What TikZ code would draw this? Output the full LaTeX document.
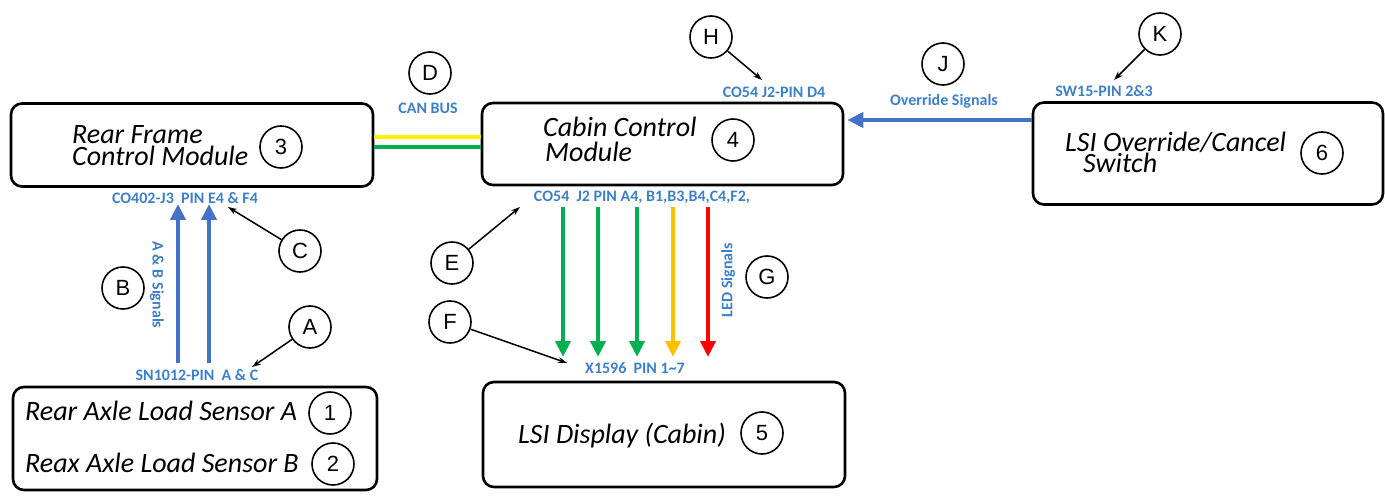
\documentclass[tikz,border=0pt]{standalone}
\usepackage{fontspec}
\setmainfont{Carlito}
\newfontfamily\circfont{Liberation Sans}
\usetikzlibrary{arrows.meta}
\definecolor{lblue}{RGB}{62,128,200}
\definecolor{ablue}{RGB}{68,114,196}
\definecolor{sgreen}{RGB}{0,176,80}
\definecolor{syellow}{RGB}{255,192,0}
\definecolor{sred}{RGB}{255,0,0}
\definecolor{canyellow}{RGB}{255,240,0}
\tikzset{
  box/.style={draw, line width=2.6pt, rounded corners=11pt, inner sep=0pt},
  circ/.style={circle, draw, line width=1.6pt, minimum size=42pt, inner sep=0pt, font=\circfont\fontsize{22}{22}\selectfont},
  mtext/.style={anchor=base west, inner sep=0pt, font=\itshape\fontsize{28}{28}\selectfont},
  lbl/.style={text=lblue, inner sep=0pt, font=\bfseries\fontsize{16}{16}\selectfont},
  ptr/.style={draw, line width=1.5pt, -{Stealth[length=9pt,width=6pt]}},
  sig/.style={line width=4.5pt, -{Triangle[length=16pt,width=15pt]}},
  can/.style={line width=4.5pt},
}
\begin{document}
\begin{tikzpicture}[x=1pt,y=-1pt]
\useasboundingbox (0,0) rectangle (1385,497);
% boxes
\node[box, minimum width=362pt, minimum height=83pt] (b3) at (192,145) {};
\node[box, minimum width=361pt, minimum height=82pt] (b4) at (662.5,144) {};
\node[box, minimum width=350pt, minimum height=102pt] (b6) at (1208,153.5) {};
\node[box, minimum width=364pt, minimum height=103pt] (b12) at (195,438.5) {};
\node[box, minimum width=362pt, minimum height=105pt] (b5) at (664,434.5) {};
% box texts
\node[mtext] (t3a) at (72,144) {Rear Frame};
\node[mtext] (t3b) at (72,166) {Control Module};
\node[mtext] (t4a) at (543,137) {Cabin Control};
\node[mtext] (t4b) at (545,162) {Module};
\node[mtext] (t6a) at (1065,152) {LSI Override/Cancel};
\node[mtext] (t6b) at (1083,173) {Switch};
\node[mtext] (t1) at (25,420) {Rear Axle Load Sensor A};
\node[mtext] (t2) at (25,472) {Reax Axle Load Sensor B};
\node[mtext] (t5) at (518,443) {LSI Display (Cabin)};
% number circles
\node[circ] (n3) at (281,147) {3};
\node[circ] (n4) at (733,140) {4};
\node[circ] (n6) at (1322,153) {6};
\node[circ] (n1) at (330,413) {1};
\node[circ] (n2) at (333,464) {2};
\node[circ] (n5) at (762,433) {5};
% letter circles
\node[circ] (cA) at (310,327) {A};
\node[circ] (cB) at (123,288) {B};
\node[circ] (cC) at (300,251) {C};
\node[circ] (cD) at (430,73) {D};
\node[circ] (cE) at (452,263) {E};
\node[circ] (cF) at (450,322) {F};
\node[circ] (cG) at (767,277) {G};
\node[circ] (cH) at (711,37) {H};
\node[circ] (cJ) at (943,64) {J};
\node[circ] (cK) at (1160,34) {K};
% labels
\node[lbl] (lC) at (185,198) {CO402-J3\ \ PIN E4 \& F4};
\node[lbl] (lA) at (197,375) {SN1012-PIN\ \ A \& C};
\node[lbl] (lD) at (428,108) {CAN BUS};
\node[lbl] (lH) at (774,92) {CO54 J2-PIN D4};
\node[lbl] (lE) at (642,197) {CO54\ \ J2 PIN A4, B1,B3,B4,C4,F2,};
\node[lbl] (lF) at (635,368) {X1596\ \ PIN 1\~{}7};
\node[lbl] (lJ) at (944,101) {Override Signals};
\node[lbl] (lK) at (1104,91) {SW15-PIN 2\&3};
\node[lbl, rotate=-90] (lB) at (157,285) {A \& B Signals};
\node[lbl, rotate=90] (lG) at (728,280) {LED Signals};
% pointer endpoints
\coordinate (pH) at (762,80);
\coordinate (pK) at (1114,80);
\coordinate (pC) at (228,207);
\coordinate (pA) at (252,367);
\coordinate (pE) at (520,207);
\coordinate (pF) at (567,363);
\draw[ptr] (cH) -- (pH);
\draw[ptr] (cK) -- (pK);
\draw[ptr] (cC) -- (pC);
\draw[ptr] (cA) -- (pA);
\draw[ptr] (cE) -- (pE);
\draw[ptr] (cF) -- (pF);
% CAN bus
\draw[can, canyellow] (b3.east |- 0,137) -- (b4.west |- 0,137);
\draw[can, sgreen] (b3.east |- 0,147) -- (b4.west |- 0,147);
% override
\draw[sig, ablue] (b6.west |- 0,120) -- ([xshift=3pt]b4.east |- 0,120);
% A & B signals
\coordinate (s1) at (178,363); \coordinate (e1) at (178,204);
\coordinate (s2) at (209,363); \coordinate (e2) at (209,204);
\draw[sig, ablue] (s1) -- (e1);
\draw[sig, ablue] (s2) -- (e2);
% LED signals
\foreach \xx/\cc [count=\i] in {563/sgreen,598/sgreen,637/sgreen,673/syellow,708/sred}{
  \coordinate (ls\i) at (\xx,207);
  \coordinate (le\i) at (\xx,357);
  \draw[sig, \cc] (ls\i) -- (le\i);
}
\end{tikzpicture}
\end{document}
